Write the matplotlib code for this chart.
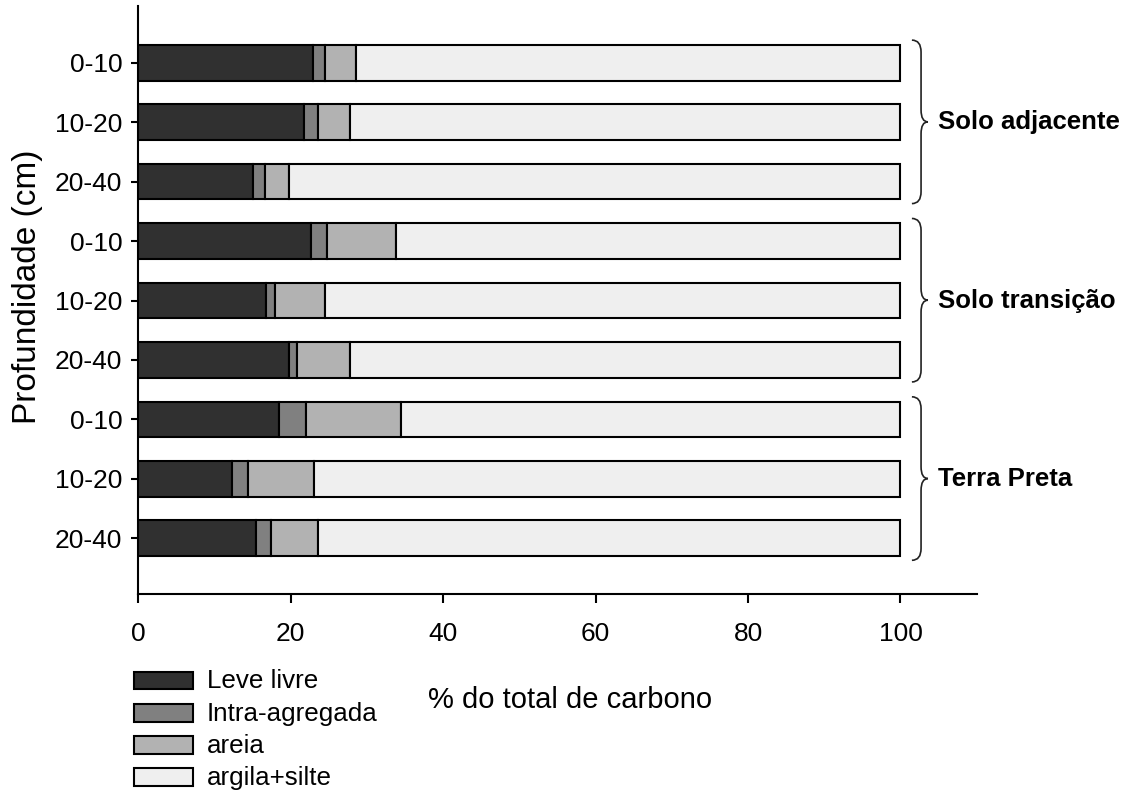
import matplotlib
matplotlib.use("Agg")
import matplotlib.pyplot as plt
from matplotlib.patches import Rectangle, PathPatch
from matplotlib.path import Path
import numpy as np

plt.rcParams['font.family'] = ['Liberation Sans', 'DejaVu Sans']

# Carbon fractions (% of total soil carbon) per depth and site
depths = ["0-10", "10-20", "20-40", "0-10", "10-20", "20-40", "0-10", "10-20", "20-40"]
groups = ["Solo adjacente", "Solo transição", "Terra Preta"]
leve_livre = [22.95, 21.8, 15.1, 22.6, 16.75, 19.8, 18.4, 12.3, 15.45]
intra_agregada = [1.5, 1.8, 1.5, 2.2, 1.15, 1.0, 3.6, 2.1, 2.0]
areia = [4.15, 4.2, 3.2, 9.0, 6.6, 7.0, 12.5, 8.7, 6.15]
argila_silte = [71.4, 72.2, 80.2, 66.2, 75.5, 72.2, 65.5, 76.9, 76.4]

series_names = ["Leve livre", "Intra-agregada", "areia", "argila+silte"]
series_colors = ["#303030", "#808080", "#b2b2b2", "#efefef"]
series_values = [leve_livre, intra_agregada, areia, argila_silte]

fig = plt.figure(figsize=(11.23, 7.93), dpi=100)
ax = fig.add_axes([0.12315, 0.25057, 0.74657, 0.74187])

ypos = np.arange(len(depths))
left = np.zeros(len(depths))
for vals, col in zip(series_values, series_colors):
    ax.barh(ypos, vals, left=left, height=0.6, color=col,
            edgecolor="black", linewidth=1.5, zorder=3)
    left += np.array(vals)

ax.set_xlim(0, 110)
ax.set_ylim(8.942, -0.954)
ax.set_xticks([0, 20, 40, 60, 80, 100])
ax.set_yticks(ypos)
ax.set_yticklabels(depths)
for side in ("top", "right"):
    ax.spines[side].set_visible(False)
for side in ("left", "bottom"):
    ax.spines[side].set_linewidth(1.5)
ax.tick_params(axis="x", direction="out", length=6.5, width=1.5,
               pad=13.5, labelsize=19)
ax.tick_params(axis="y", direction="out", length=5, width=1.5,
               pad=6.5, labelsize=19)

ax.set_xlabel("% do total de carbono", fontsize=21, va="center")
ax.xaxis.set_label_coords(0.5155, -0.1797)
ax.set_ylabel("Profundidade (cm)", fontsize=24, va="center")
ax.yaxis.set_label_coords(-0.1322, 0.523)


def curly_brace(ax, ytop, ybot, x0, x1, x2, r):
    ymid = 0.5 * (ytop + ybot)
    verts = [
        (x0, ytop), (x1, ytop), (x1, ytop + r),
        (x1, ymid - r),
        (x1, ymid), (x2, ymid),
        (x1, ymid), (x1, ymid + r),
        (x1, ybot - r),
        (x1, ybot), (x0, ybot),
    ]
    codes = [Path.MOVETO, Path.CURVE3, Path.CURVE3,
             Path.LINETO,
             Path.CURVE3, Path.CURVE3,
             Path.CURVE3, Path.CURVE3,
             Path.LINETO,
             Path.CURVE3, Path.CURVE3]
    patch = PathPatch(Path(verts, codes), fill=False, edgecolor="#222222",
                      linewidth=1.2, clip_on=False, zorder=4)
    ax.add_patch(patch)


for g, name in enumerate(groups):
    first = 3 * g
    last = 3 * g + 2
    curly_brace(ax, first - 0.38, last + 0.37, 101.5, 102.7, 103.6, 0.2)
    ax.text(104.9, first + 1, name, fontsize=18.5, fontweight="bold",
            va="center", ha="left", clip_on=False)

# Legend drawn as a stacked key below the axes
fig_w, fig_h = 1123.0, 793.0
row_centers = [680.5, 712.7, 745.0, 777.0]
for name, col, yc in zip(series_names, series_colors, row_centers):
    rect = Rectangle((134.3 / fig_w, 1 - (yc + 8.8) / fig_h),
                     58.4 / fig_w, 17.6 / fig_h,
                     facecolor=col, edgecolor="black", linewidth=1.5,
                     transform=fig.transFigure)
    fig.add_artist(rect)
    fig.text(207 / fig_w, 1 - (yc + 8.0) / fig_h, name, fontsize=18.7,
             va="baseline", ha="left")

fig.savefig("out.png", dpi=100)
